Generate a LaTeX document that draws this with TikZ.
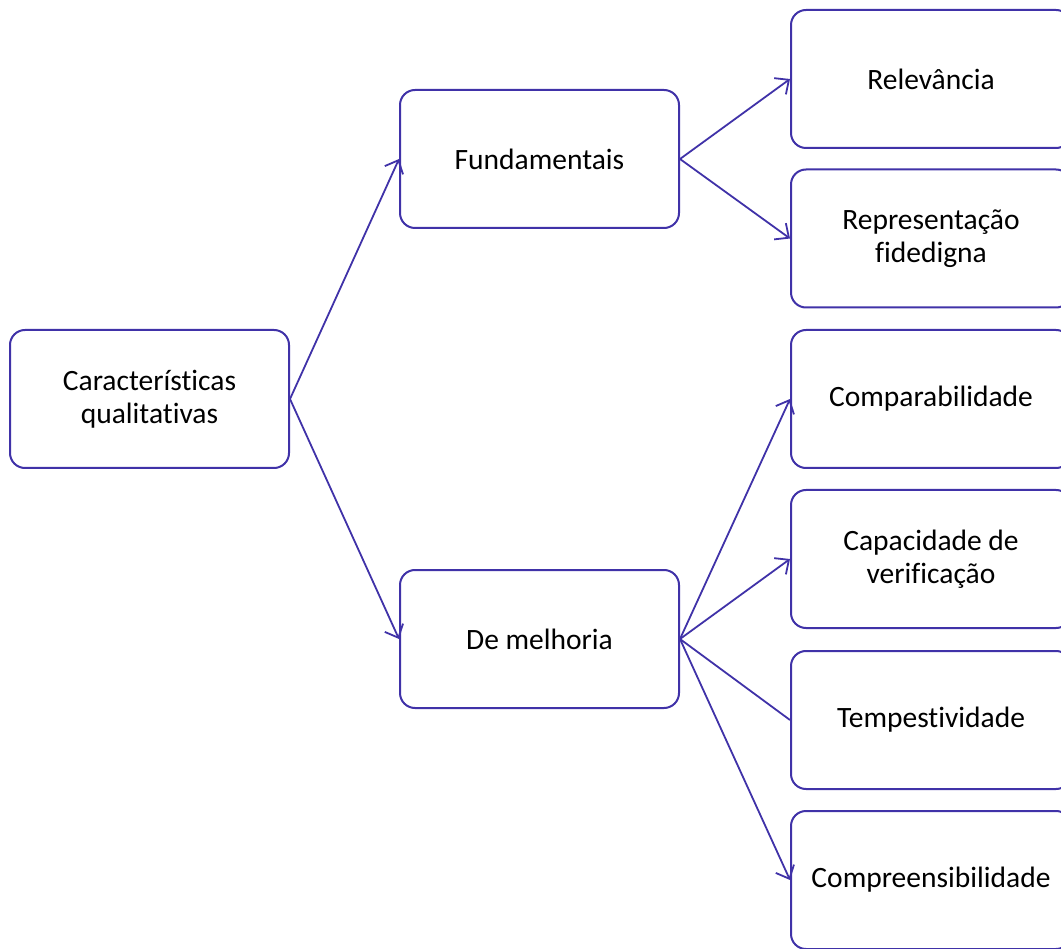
\documentclass[tikz,border=0pt]{standalone}
\usepackage{fontspec}
\setmainfont{Carlito}[Ligatures=CommonOff, RawFeature={-liga;-clig;-calt}]
\usetikzlibrary{arrows.meta}
\definecolor{linha}{RGB}{64,50,168}
\tikzset{
    caixa/.style={draw=linha, line width=2pt, rounded corners=15pt, minimum width=279pt, minimum height=138pt, align=center, font=\fontsize{29.5}{33}\selectfont, inner sep=0pt},
    seta/.style={draw=linha, line width=1.8pt, -{Straight Barb[length=11pt, width=20pt, line width=1.8pt]}},
    liga/.style={draw=linha, line width=1.8pt}
}
\begin{document}
\begin{tikzpicture}[x=1pt, y=-1pt]
            \useasboundingbox (0,0) rectangle (1061,949);
            \node[caixa] (raiz) at (149.5, 399) {Características\\qualitativas};
            \node[caixa] (fund) at (539.5, 159) {Fundamentais};
            \node[caixa] (melh) at (539.5, 639) {De melhoria};
            \foreach \i/\y/\txt in {1/79/Relevância, 2/238.5/{Representação\\fidedigna}, 3/399/Comparabilidade, 4/559/{Capacidade de\\verificação}, 5/720/Tempestividade, 6/880/Compreensibilidade} {
                \node[caixa, minimum width=280pt] (c\i) at (931, \y) {\txt};
            }
            \draw[seta] (raiz.east) -- (fund.west);
            \draw[seta] (raiz.east) -- (melh.west);
            \draw[seta] (fund.east) -- (c1.west);
            \draw[seta] (fund.east) -- (c2.west);
            \draw[seta] (melh.east) -- (c3.west);
            \draw[seta] (melh.east) -- (c4.west);
            \draw[liga] (melh.east) -- (c5.west);
            \draw[seta] (melh.east) -- (c6.west);
        \end{tikzpicture}
\end{document}
